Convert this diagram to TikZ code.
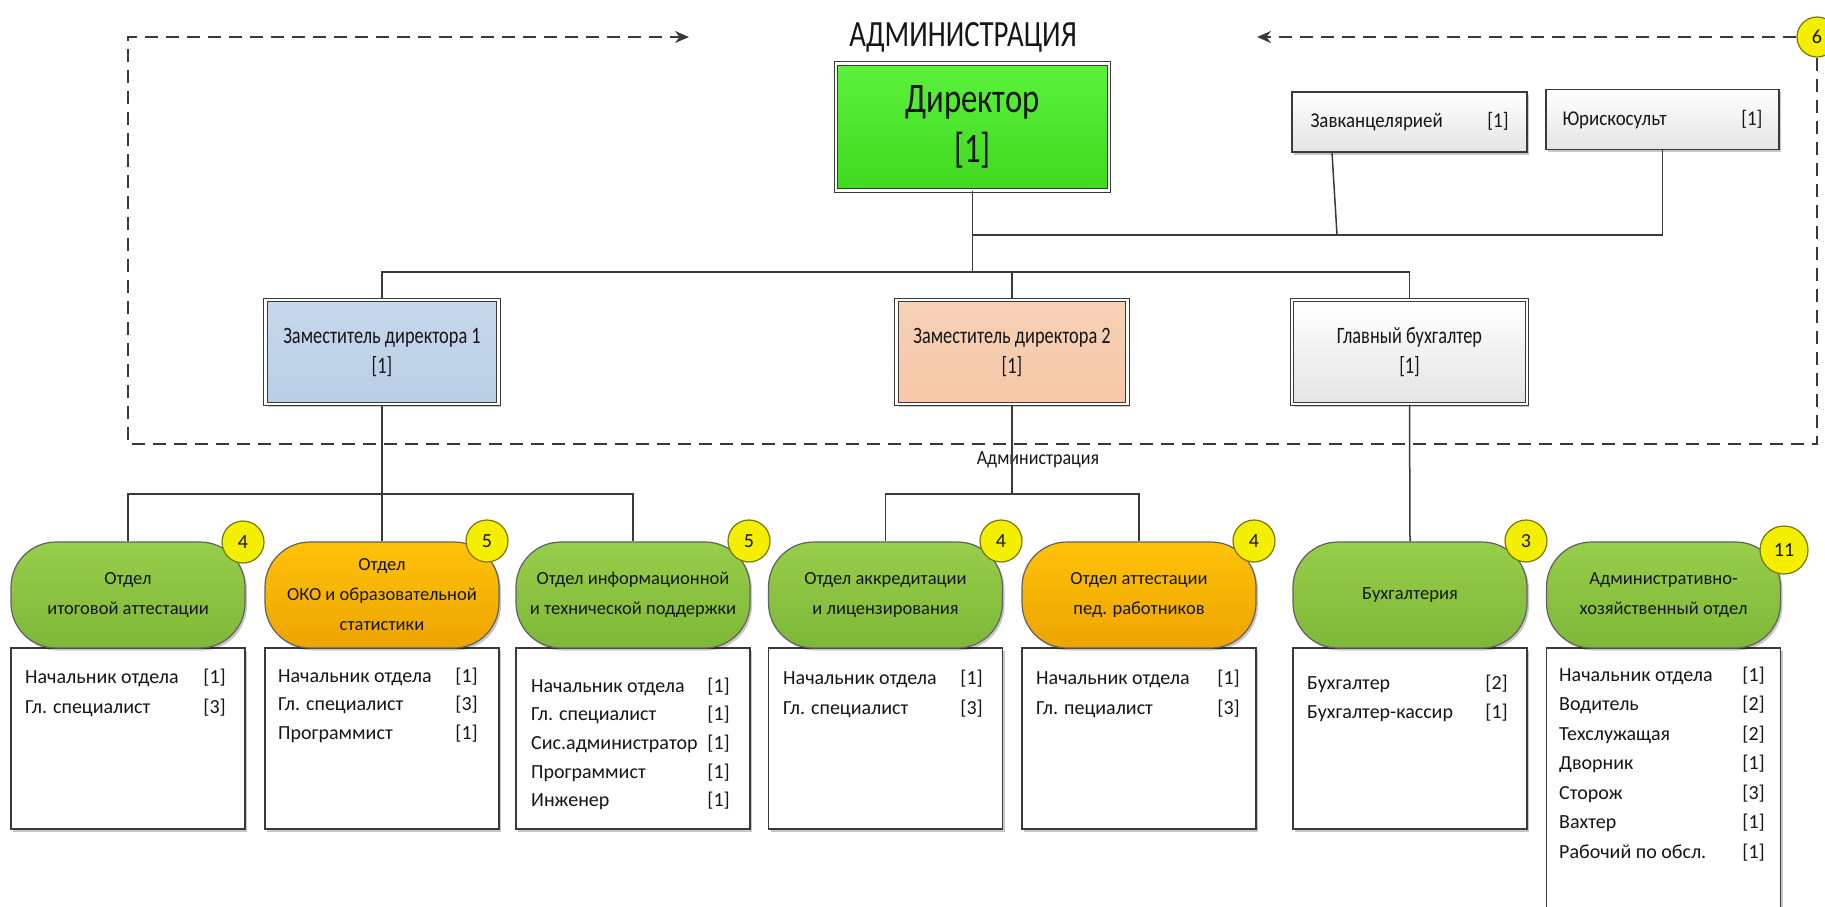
\documentclass[tikz,border=0pt]{standalone}
\usepackage{fontspec}
\setmainfont{Carlito}
\newfontfamily\condfont[FakeStretch=0.78]{Carlito}
\newfontfamily\semifont[FakeStretch=0.9]{Carlito}
\usetikzlibrary{arrows.meta,shadows}
\definecolor{linec}{HTML}{3A3A3A}
\definecolor{dirgreen}{HTML}{5CF23C}
\definecolor{dirgreenB}{HTML}{3ED91F}
\definecolor{depblue}{HTML}{B9CEE6}
\definecolor{deppeach}{HTML}{F5C7A6}
\definecolor{pillgreen}{HTML}{97CE4C}
\definecolor{pillgreenB}{HTML}{7EB836}
\definecolor{pillorange}{HTML}{FFC20A}
\definecolor{pillorangeB}{HTML}{EEA400}
\definecolor{badgey}{HTML}{F4EE00}
\definecolor{badgeb}{HTML}{77770A}
\definecolor{greyb}{HTML}{E4E4E4}
\definecolor{txt}{HTML}{161616}
\newcommand\stafflist[6]{%
  \foreach \t/\c [count=\i from 0] in {#6} {%
    \node[stafftxt, anchor=base west] (#1t\i) at (#2,{#4+#5*\i}) {\t};
    \node[stafftxt, anchor=base east] (#1n\i) at (#3,{#4+#5*\i}) {\c};
  }%
}
\begin{document}
\begin{tikzpicture}[x=1pt,y=-1pt,
 conn/.style={draw=linec, line width=1.5pt},
 dashline/.style={draw=linec, line width=1.8pt, dash pattern=on 13pt off 8pt},
 shad/.style={drop shadow={shadow xshift=2pt,shadow yshift=-2.5pt,fill=black,opacity=0.22}},
 dbox/.style={shad, draw=linec, line width=1.1pt, double=white, double distance=2.2pt, inner sep=0pt, align=center, text=txt},
 sbox/.style={shad, draw=linec, line width=1.2pt, top color=white, bottom color=greyb, minimum height=60pt, inner xsep=18pt, align=left, text=txt, font=\semifont\fontsize{21}{25}\selectfont},
 pill/.style={shad, draw=linec!80, line width=1.2pt, rounded corners=45pt, minimum width=234pt, minimum height=106pt, align=center, text=txt, font=\fontsize{18.5}{30}\selectfont, inner sep=0pt},
 gpill/.style={pill, top color=pillgreen, bottom color=pillgreenB},
 opill/.style={pill, top color=pillorange, bottom color=pillorangeB},
 staffbox/.style={shad, draw=linec, line width=1.3pt, fill=white, minimum width=234pt, inner sep=0pt},
 badge/.style={circle, draw=badgeb, line width=1.2pt, fill=badgey, minimum size=42pt, inner sep=0pt, text=txt, font=\fontsize{20}{22}\selectfont},
 stafftxt/.style={inner sep=0pt, text=txt, font=\fontsize{20}{24}\selectfont},
]
\fill[white] (0,0) rectangle (1825,906);
\useasboundingbox (0,0) rectangle (1825,906);

% title
\node[font=\condfont\fontsize{37}{40}\selectfont, text=txt, inner sep=0pt] (title) at (963,37) {АДМИНИСТРАЦИЯ};

% top level
\node[dbox, top color=dirgreen, bottom color=dirgreenB, minimum width=273pt, minimum height=127pt, font=\condfont\fontsize{42}{50}\selectfont] (dir) at (972.5,127) {Директор\\{[1]}};
\node[sbox, minimum width=235pt, text width=198pt] (zav) at (1409.5,122) {Завканцелярией\hfill[1]};
\node[sbox, minimum width=233pt, text width=200pt, inner xsep=16.5pt] (yur) at (1662.5,119.5) {Юрискосульт\hfill[1]};

\node[dbox, top color=depblue!80!white, bottom color=depblue, minimum width=233pt, minimum height=104pt, font=\condfont\fontsize{23.5}{30}\selectfont] (dep1) at (382,352) {Заместитель директора 1\\{[1]}};
\node[dbox, top color=deppeach!80!white, bottom color=deppeach, minimum width=231pt, minimum height=104pt, font=\condfont\fontsize{23.5}{30}\selectfont] (dep2) at (1012,352) {Заместитель директора 2\\{[1]}};
\node[dbox, top color=white, bottom color=greyb, minimum width=235pt, minimum height=104pt, font=\condfont\fontsize{23.5}{30}\selectfont] (gb) at (1409.5,352) {Главный бухгалтер\\{[1]}};

% administration frame
\node[badge, minimum size=40pt] (b0) at (1817,37) {6};
\coordinate (arrL) at (689,37);
\coordinate (arrR) at (1257,37);
\coordinate (cbl) at (128,444);
\coordinate (ctl) at (128,37);
\draw[dashline, -{Stealth[length=14pt,width=12pt]}] (b0.south) |- (cbl) -- (ctl) -- (arrL);
\draw[dashline, -{Stealth[length=14pt,width=12pt]}] (b0.west) -- (arrR);
\node[font=\semifont\fontsize{20}{22}\selectfont, text=txt, inner sep=0pt] (adm) at (1038,460) {Администрация};

% top connectors
\coordinate (ja) at (972.5,235);
\coordinate (jb) at (972.5,272);
\coordinate (jz) at (1337,235);
\draw[conn] (dir.south) -- (jb);
\draw[conn] (ja) -| (yur.south);
\draw[conn] ([xshift=-77.5pt]zav.south) -- (jz);
\draw[conn] (dep1.north) |- (jb) -| (gb.north);
\draw[conn] (dep2.north) -- (dep2.north |- jb);

% staff boxes
\node[staffbox, minimum height=181pt] (s1) at (128,738.5) {};
\node[staffbox, minimum height=181pt] (s2) at (382,738.5) {};
\node[staffbox, minimum height=181pt] (s3) at (633,738.5) {};
\node[staffbox, minimum height=181pt] (s4) at (885.5,738.5) {};
\node[staffbox, minimum height=181pt] (s5) at (1139,738.5) {};
\node[staffbox, minimum height=181pt] (s6) at (1410,738.5) {};
\node[staffbox, minimum height=264pt] (s7) at (1663.5,780) {};

% departments
\node[gpill] (d1) at (128,595) {Отдел\\итоговой аттестации};
\node[opill] (d2) at (382,595) {Отдел\\ОКО и образовательной\\статистики};
\node[gpill] (d3) at (633,595) {Отдел информационной\\и технической поддержки};
\node[gpill] (d4) at (885.5,595) {Отдел аккредитации\\и лицензирования};
\node[opill] (d5) at (1139,595) {Отдел аттестации\\пед. работников};
\node[gpill] (d6) at (1410,595) {Бухгалтерия};
\node[gpill] (d7) at (1663.5,595) {Административно-\\хозяйственный отдел};

% badges
\node[badge] (b1) at (243,542) {4};
\node[badge] (b2) at (487,541) {5};
\node[badge] (b3) at (749,541) {5};
\node[badge] (b4) at (1001,541) {4};
\node[badge] (b5) at (1254,541) {4};
\node[badge] (b6) at (1526,541) {3};
\node[badge, minimum size=48pt] (b7) at (1784,550) {11};

% lower connectors
\coordinate (k1) at (382,494);
\coordinate (k2) at (1012,494);
\draw[conn] (dep1.south) -- (d2.north);
\draw[conn] (d1.north) |- (k1) -| (d3.north);
\draw[conn] (dep2.south) -- (k2);
\draw[conn] (d4.north) |- (k2) -| (d5.north);
\draw[conn] (gb.south) -- (d6.north);

% staff texts
\stafflist{sa}{25}{226}{683}{30}{Начальник отдела/[1], Гл. специалист/[3]}
\stafflist{sb}{278}{478}{682}{28.5}{Начальник отдела/[1], Гл. специалист/[3], Программист/[1]}
\stafflist{sc}{531}{730}{692}{28.7}{Начальник отдела/[1], Гл. специалист/[1], Сис.администратор/[1], Программист/[1], Инженер/[1]}
\stafflist{sd}{783}{983}{684}{30}{Начальник отдела/[1], Гл. специалист/[3]}
\stafflist{se}{1036}{1240}{684}{30}{Начальник отдела/[1], Гл. пециалист/[3]}
\stafflist{sf}{1307}{1508}{689}{29}{Бухгалтер/[2], Бухгалтер-кассир/[1]}
\stafflist{sg}{1559}{1765}{681}{29.5}{Начальник отдела/[1], Водитель/[2], Техслужащая/[2], Дворник/[1], Сторож/[3], Вахтер/[1], Рабочий по обсл./[1]}
\end{tikzpicture}
\end{document}
